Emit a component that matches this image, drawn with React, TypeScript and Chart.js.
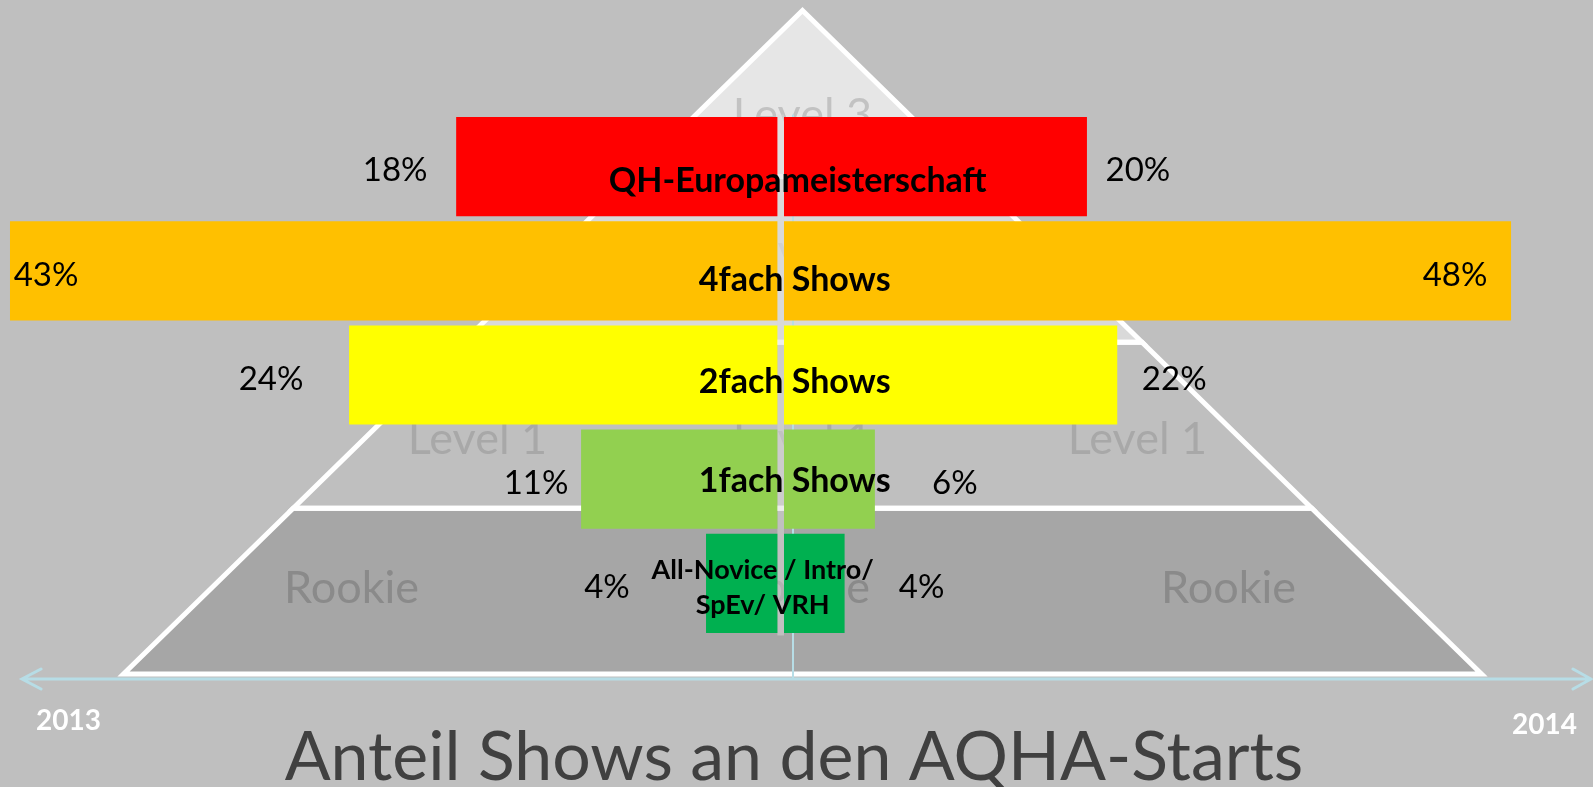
import React, { useEffect, useRef } from 'react';
import { Chart, registerables } from 'chart.js';

Chart.register(...registerables);

// ---------- data ----------
const categories: string[][] = [
  ['QH-Europameisterschaft'],
  ['4fach Shows'],
  ['2fach Shows'],
  ['1fach Shows'],
  ['All-Novice / Intro/', 'SpEv/ VRH'],
];
const share2013 = [18, 43, 24, 11, 4];
const share2014 = [20, 48, 22, 6, 4];
const years = ['2013', '2014'];
const levels = ['Level 3', 'Level 2', 'Level 1', 'Rookie'];
const titleText = 'Anteil Shows an den AQHA-Starts';

// ---------- styling ----------
const barColors = ['#FF0000', '#FFC000', '#FFFF00', '#92D050', '#00B050'];
const layerColors = ['#e6e6e6', '#d9d9d9', '#bfbfbf', '#a6a6a6'];
const layerTextColors = ['#c2c2c2', '#c6c6c6', '#a8a8a8', '#8a8a8a'];
const levelTextY = [114, 250, 438, 587];
// side copies of the level captions (dx from the pyramid axis)
const sideLevelDx: number[][] = [[], [], [-325, 335], [-451, 426]];
// distance of the percent label centre from the bar end (positive = outside the bar)
const out2013 = [61, -36, 78, 45, 99];
const out2014 = [51, -56, 57, 80, 77];
const nameDx = [3, 0, 0, 0, -32];
const nameDy = [13, 8, 6, 1, 3];
const FONT = 'Lato, "Open Sans", sans-serif';
const AXIS_BLUE = '#b7dde6';

function capText(ctx: CanvasRenderingContext2D, text: string, x: number, midY: number, size: number, weight: string, color: string) {
  ctx.font = `${weight} ${size}px ${FONT}`;
  ctx.fillStyle = color;
  ctx.textAlign = 'center';
  ctx.textBaseline = 'alphabetic';
  ctx.fillText(text, x, midY + size * 0.358);
}

const deco = {
  id: 'deco',
  beforeDatasetsDraw(chart: any) {
    const ctx: CanvasRenderingContext2D = chart.ctx;
    const apexX = 802.5, apexY = 10.5, baseY = 674, baseHalf = 679;
    const xAt = (y: number, side: number) => apexX + side * baseHalf * (y - apexY) / (baseY - apexY);
    const layerPath = (k: number) => {
      const y0 = apexY + (baseY - apexY) * k / levels.length;
      const y1 = apexY + (baseY - apexY) * (k + 1) / levels.length;
      ctx.beginPath();
      if (k === 0) ctx.moveTo(apexX, y0);
      else { ctx.moveTo(xAt(y0, -1), y0); ctx.lineTo(xAt(y0, 1), y0); }
      ctx.lineTo(xAt(y1, 1), y1);
      ctx.lineTo(xAt(y1, -1), y1);
      ctx.closePath();
    };
    ctx.save();
    levels.forEach((_, k) => { layerPath(k); ctx.fillStyle = layerColors[k]; ctx.fill(); });
    ctx.strokeStyle = '#ffffff';
    ctx.lineWidth = 5;
    ctx.lineJoin = 'miter';
    levels.forEach((_, k) => { layerPath(k); ctx.stroke(); });
    levels.forEach((lv, k) => {
      capText(ctx, lv, apexX, levelTextY[k], 45, 'normal', layerTextColors[k]);
      sideLevelDx[k].forEach((dx) => capText(ctx, lv, apexX + dx, levelTextY[k], 45, 'normal', layerTextColors[k]));
    });

    // light strip between the two halves
    const zl = chart.scales.xL.getPixelForValue(0);
    const zr = chart.scales.xR.getPixelForValue(0);
    const area = chart.chartArea;
    ctx.fillStyle = 'rgba(217,217,217,0.5)';
    ctx.fillRect(zl, area.top, zr - zl, area.bottom - area.top);

    // axes (arrow)
    const ay = 679;
    ctx.strokeStyle = AXIS_BLUE;
    ctx.lineWidth = 2;
    ctx.beginPath();
    ctx.moveTo(zr + 9, area.top);
    ctx.lineTo(zr + 9, ay);
    ctx.stroke();
    ctx.lineWidth = 3;
    ctx.lineCap = 'round';
    ctx.beginPath();
    ctx.moveTo(22, ay); ctx.lineTo(1591, ay);
    ctx.moveTo(41, ay - 10); ctx.lineTo(22, ay); ctx.lineTo(41, ay + 10);
    ctx.moveTo(1573, ay - 10); ctx.lineTo(1591, ay); ctx.lineTo(1573, ay + 10);
    ctx.stroke();
    ctx.restore();
  },
  afterDatasetsDraw(chart: any) {
    const ctx: CanvasRenderingContext2D = chart.ctx;
    ctx.save();
    const zl = chart.scales.xL.getPixelForValue(0);
    const zr = chart.scales.xR.getPixelForValue(0);
    const nameX = (zl + zr) / 2 + 14;
    const m0 = chart.getDatasetMeta(0).data;
    const m1 = chart.getDatasetMeta(1).data;
    categories.forEach((lines, i) => {
      const cy = m0[i].y + nameDy[i];
      const size = lines.length > 1 ? 27 : 34;
      const lh = 35;
      lines.forEach((ln, j) => {
        const y = cy + (j - (lines.length - 1) / 2) * lh;
        capText(ctx, ln, nameX + nameDx[i], y, size, 'bold', '#000000');
      });
      capText(ctx, share2013[i] + '%', m0[i].x - out2013[i], m0[i].y + 3, 33, 'normal', '#000000');
      capText(ctx, share2014[i] + '%', m1[i].x + out2014[i], m1[i].y + 3, 33, 'normal', '#000000');
    });
    capText(ctx, years[0], 68.5, 719.5, 28, 'bold', '#ffffff');
    capText(ctx, years[1], 1544.5, 723.5, 28, 'bold', '#ffffff');
    capText(ctx, titleText, 794, 755.5, 68, 'normal', '#404040');
    ctx.restore();
  },
};

export default function App() {
  const ref = useRef<HTMLCanvasElement>(null);
  useEffect(() => {
    document.body.style.margin = '0';
    const common = {
      backgroundColor: barColors,
      grouped: false,
      barPercentage: 0.952,
      categoryPercentage: 1,
      borderWidth: 0,
    };
    const chart = new Chart(ref.current as HTMLCanvasElement, {
      type: 'bar',
      data: {
        labels: categories.map((c) => c.join(' ')),
        datasets: [
          { label: years[0], data: share2013, xAxisID: 'xL', ...common },
          { label: years[1], data: share2014, xAxisID: 'xR', ...common },
        ],
      } as any,
      options: {
        indexAxis: 'y',
        responsive: false,
        animation: false,
        events: [],
        layout: { padding: { top: 114.5, bottom: 151.5, left: 0, right: 0 } },
        scales: {
          y: { type: 'category', display: false },
          xL: { type: 'linear', axis: 'x', display: false, reverse: true, min: -45.7, max: 43.56 },
          xR: { type: 'linear', axis: 'x', display: false, min: -51.76, max: 53.41 },
        },
        plugins: { legend: { display: false }, tooltip: { enabled: false } },
      } as any,
      plugins: [deco],
    });
    return () => chart.destroy();
  }, []);
  return (
    <div style={{ position: 'fixed', left: 0, top: 0, width: 1593, height: 787, background: '#bfbfbf', overflow: 'hidden' }}>
      <canvas ref={ref} width={1593} height={787} style={{ display: 'block', width: 1593, height: 787 }} />
    </div>
  );
}
